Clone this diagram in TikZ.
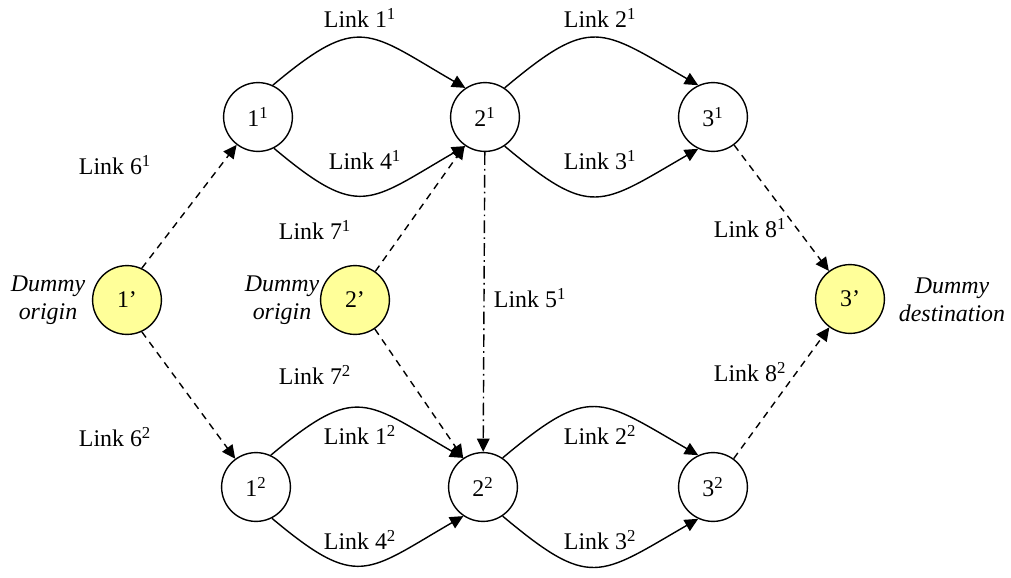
\documentclass[tikz,border=0pt]{standalone}
\usepackage{fontspec}
\setmainfont{Liberation Serif}
\usetikzlibrary{arrows.meta}
\definecolor{dummyfill}{RGB}{255,255,153}

\begin{document}
\begin{tikzpicture}[
    every node/.style={font=\fontsize{17}{20}\selectfont},
    state/.style={shape=circle,draw=black,line width=1pt,minimum size=1.72cm,inner sep=0pt},
    dummy/.style={state,fill=dummyfill},
    link/.style={-{Triangle[length=9.5pt,width=9pt]},line width=1pt},
    dlink/.style={link,dash pattern=on 5pt off 4pt},
    ddlink/.style={link,dash pattern=on 9pt off 3pt on 1.2pt off 3pt},
    note/.style={align=center,inner sep=0pt,font=\fontsize{17}{20}\selectfont\itshape}]
    \useasboundingbox (0,0) rectangle (25.275,-14.425);
    % nodes of the first copy
    \node[state] (n11) at (6.45,-2.925) {1\textsuperscript{1}};
    \node[state] (n21) at (12.125,-2.925) {2\textsuperscript{1}};
    \node[state] (n31) at (17.825,-2.925) {3\textsuperscript{1}};
    % nodes of the second copy
    \node[state] (n12) at (6.4,-12.175) {1\textsuperscript{2}};
    \node[state] (n22) at (12.075,-12.175) {2\textsuperscript{2}};
    \node[state] (n32) at (17.825,-12.175) {3\textsuperscript{2}};
    % dummy nodes
    \node[dummy] (o1) at (3.175,-7.5) {1’};
    \node[dummy] (o2) at (8.875,-7.5) {2’};
    \node[dummy] (d3) at (21.25,-7.475) {3’};
    \node[note] (t1) at (1.2,-7.5) {Dummy\\origin};
    \node[note] (t2) at (7.05,-7.5) {Dummy\\origin};
    \node[note] (t3) at (23.8,-7.5) {Dummy\\destination};

    \draw[link] (n11.65) to[out=40,in=150,looseness=1.5] (n21.124);
    \draw[link] (n11.-63) to[out=-40,in=-150,looseness=1.5] (n21.-124);
    \draw[link] (n21.56) to[out=40,in=150,looseness=1.5] (n31.115);
    \draw[link] (n21.-56) to[out=-40,in=-150,looseness=1.5] (n31.-115);
    \draw[link] (n12.65) to[out=40,in=150,looseness=1.5] (n22.124);
    \draw[link] (n12.-63) to[out=-40,in=-150,looseness=1.5] (n22.-124);
    \draw[link] (n22.56) to[out=40,in=150,looseness=1.5] (n32.115);
    \draw[link] (n22.-56) to[out=-40,in=-150,looseness=1.5] (n32.-115);
    \draw[dlink] (o1.65) -- (n11);
    \draw[dlink] (o1.-65) -- (n12);
    \draw[dlink] (o2) -- (n21);
    \draw[dlink] (o2) -- (n22);
    \draw[dlink] (n31) -- (d3);
    \draw[dlink] (n32) -- (d3);
    \draw[ddlink] (n21) -- (n22);

    % link labels
    \node (l11) at (9,-0.45) {Link 1\textsuperscript{1}};
    \node (l21) at (15,-0.45) {Link 2\textsuperscript{1}};
    \node (l41) at (9.125,-4) {Link 4\textsuperscript{1}};
    \node (l31) at (15,-4) {Link 3\textsuperscript{1}};
    \node (l61) at (2.875,-4.125) {Link 6\textsuperscript{1}};
    \node (l71) at (7.875,-5.75) {Link 7\textsuperscript{1}};
    \node (l51) at (13.25,-7.45) {Link 5\textsuperscript{1}};
    \node (l81) at (18.75,-5.7) {Link 8\textsuperscript{1}};
    \node (l82) at (18.75,-9.3) {Link 8\textsuperscript{2}};
    \node (l72) at (7.875,-9.375) {Link 7\textsuperscript{2}};
    \node (l62) at (2.875,-10.925) {Link 6\textsuperscript{2}};
    \node (l12) at (9,-10.875) {Link 1\textsuperscript{2}};
    \node (l22) at (15,-10.875) {Link 2\textsuperscript{2}};
    \node (l42) at (9,-13.5) {Link 4\textsuperscript{2}};
    \node (l32) at (15,-13.5) {Link 3\textsuperscript{2}};
\end{tikzpicture}
\end{document}
